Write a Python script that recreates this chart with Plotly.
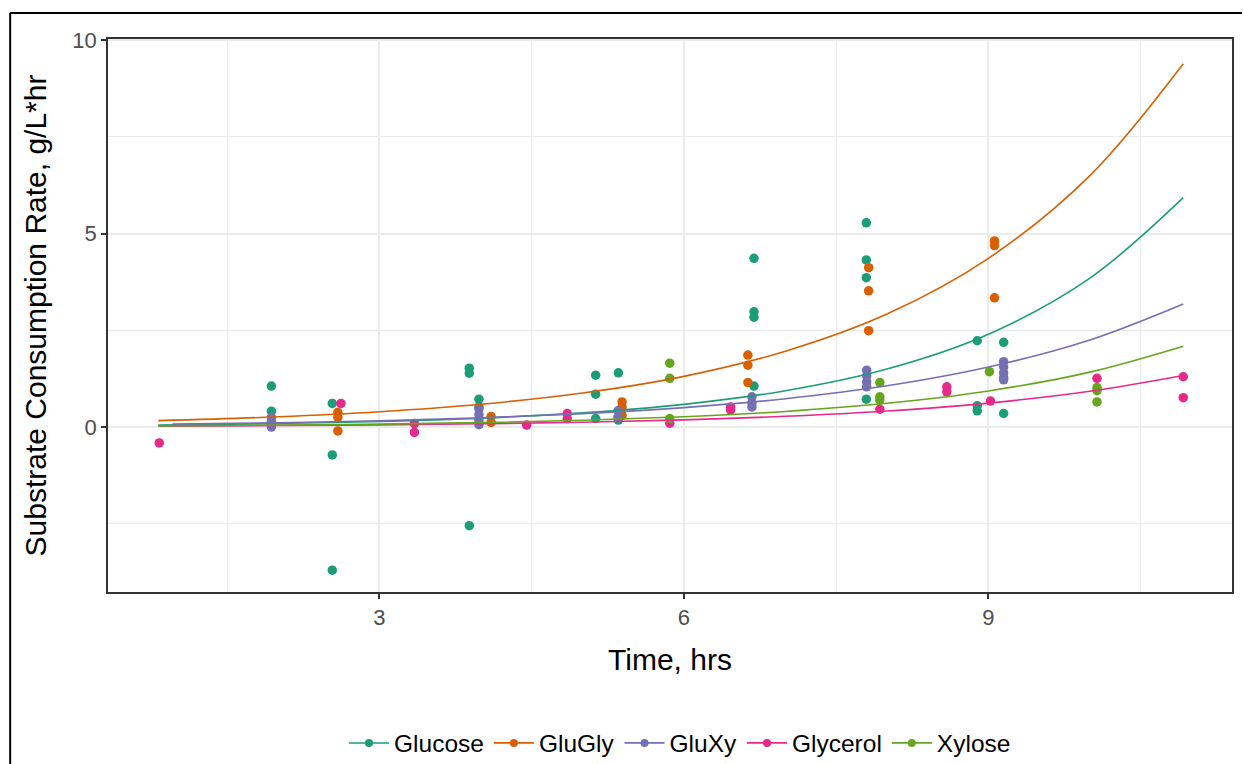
import plotly.graph_objects as go

# ---------------- data ----------------
series_names = ["Glucose", "GluGly", "GluXy", "Glycerol", "Xylose"]
colors = ["#1B9E77", "#D95F02", "#7570B3", "#E7298A", "#66A61E"]

glucose_x = [1.935, 1.935, 2.535, 2.535, 2.535, 3.885, 3.885, 3.885, 3.98, 3.98,
             5.13, 5.13, 5.13, 5.354, 5.354, 6.69, 6.69, 6.69, 6.69,
             7.797, 7.797, 7.797, 7.797, 8.89, 8.89, 8.89, 9.15, 9.15, 9.15]
glucose_y = [1.06, 0.41, 0.61, -0.72, -3.70, 1.52, 1.39, -2.55, 0.72, 0.52,
             1.34, 0.85, 0.22, 1.40, 0.18, 4.36, 2.98, 2.84, 1.06,
             5.28, 4.32, 3.86, 0.72, 2.23, 0.55, 0.42, 2.19, 1.28, 0.35]

glugly_x = [2.59, 2.59, 2.59, 4.10, 4.10, 5.39, 5.39, 5.39, 6.63, 6.63, 6.63,
            7.82, 7.82, 7.82, 9.06, 9.06, 9.06]
glugly_y = [0.38, 0.25, -0.10, 0.27, 0.12, 0.65, 0.52, 0.30, 1.86, 1.60, 1.15,
            4.12, 3.52, 2.49, 4.81, 4.69, 3.34]

gluxy_x = [1.935, 1.935, 1.935, 1.935, 3.98, 3.98, 3.98, 3.98, 5.35, 5.35,
           6.67, 6.67, 6.67, 7.80, 7.80, 7.80, 7.80, 9.15, 9.15, 9.15, 9.15]
gluxy_y = [0.25, 0.15, 0.05, 0.00, 0.47, 0.32, 0.18, 0.06, 0.42, 0.25,
           0.78, 0.62, 0.52, 1.47, 1.32, 1.17, 1.04, 1.69, 1.55, 1.40, 1.22]

glycerol_x = [0.83, 2.62, 3.344, 3.344, 4.45, 4.85, 4.85, 5.86, 6.46, 6.46,
              7.93, 8.59, 8.59, 9.02, 10.07, 10.92, 10.92]
glycerol_y = [-0.41, 0.61, 0.09, -0.14, 0.05, 0.35, 0.22, 0.10, 0.52, 0.44,
              0.46, 1.04, 0.91, 0.67, 1.26, 1.30, 0.76]

xylose_x = [5.86, 5.86, 5.86, 7.93, 7.93, 7.93, 9.01, 10.07, 10.07, 10.07]
xylose_y = [1.65, 1.26, 0.22, 1.15, 0.78, 0.70, 1.43, 1.02, 0.94, 0.65]

# fitted (smooth) curves
fit_x = [0.82, 2, 3, 4, 5, 6, 7, 8, 9, 10, 10.92]
fit_x_gluxy = [0.96, 2, 3, 4, 5, 6, 7, 8, 9, 10, 10.92]
glucose_fit = [0.051, 0.090, 0.143, 0.229, 0.367, 0.587, 0.939, 1.50, 2.40, 3.85, 5.93]
glugly_fit = [0.165, 0.265, 0.395, 0.589, 0.879, 1.31, 1.96, 2.92, 4.36, 6.50, 9.39]
gluxy_fit = [0.076, 0.112, 0.163, 0.238, 0.346, 0.503, 0.732, 1.065, 1.55, 2.25, 3.18]
glycerol_fit = [0.023, 0.038, 0.056, 0.084, 0.125, 0.186, 0.278, 0.415, 0.619, 0.923, 1.33]
xylose_fit = [0.030, 0.049, 0.075, 0.114, 0.174, 0.265, 0.403, 0.613, 0.933, 1.42, 2.09]

x_ticks = [3, 6, 9]
y_ticks = [0, 5, 10]

points = [(glucose_x, glucose_y), (glugly_x, glugly_y), (gluxy_x, gluxy_y),
          (glycerol_x, glycerol_y), (xylose_x, xylose_y)]
fits = [(fit_x, glucose_fit), (fit_x, glugly_fit), (fit_x_gluxy, gluxy_fit),
        (fit_x, glycerol_fit), (fit_x, xylose_fit)]

# ---------------- figure ----------------
FONT = "Liberation Sans, Arial, sans-serif"
fig = go.Figure()

for name, col, (px, py) in zip(series_names, colors, points):
    fig.add_trace(go.Scatter(x=px, y=py, mode="markers", name=name,
                             legendgroup=name, showlegend=False,
                             marker=dict(color=col, size=9.5, line=dict(width=0)),
                             cliponaxis=False))

for name, col, (fx, fy) in zip(series_names, colors, fits):
    fig.add_trace(go.Scatter(x=fx, y=fy, mode="lines", name=name,
                             legendgroup=name, showlegend=False,
                             line=dict(color=col, width=1.6, shape="spline")))

# legend entries (line + dot key)
for name, col in zip(series_names, colors):
    fig.add_trace(go.Scatter(x=[None], y=[None], mode="lines+markers",
                             name=name, legendgroup=name, showlegend=True,
                             line=dict(color=col, width=1.6),
                             marker=dict(color=col, size=8)))

W, H = 1244, 764
L, R, T, B = 108, 1234, 39, 592
pw, ph = R - L, B - T

grid_major = "#EBEBEB"
fig.update_xaxes(range=[0.325, 11.40], tickvals=x_ticks, ticktext=[str(v) for v in x_ticks],
                 showgrid=True, gridcolor=grid_major, gridwidth=1.8,
                 minor=dict(tick0=0, dtick=1.5, showgrid=True, gridcolor=grid_major,
                            gridwidth=1, ticks=""),
                 zeroline=False, showline=True, mirror=True, linecolor="#333333",
                 linewidth=1.5, ticks="outside", ticklen=5, tickwidth=1.5,
                 tickcolor="#333333",
                 tickfont=dict(family=FONT, size=22, color="#4D4D4D"),
                 title=dict(text="Time, hrs", font=dict(family=FONT, size=30, color="black"),
                            standoff=20))
fig.update_yaxes(range=[-4.264, 10.03], tickvals=y_ticks, ticktext=[str(v) for v in y_ticks],
                 showgrid=True, gridcolor=grid_major, gridwidth=1.8,
                 minor=dict(tick0=0, dtick=2.5, showgrid=True, gridcolor=grid_major,
                            gridwidth=1, ticks=""),
                 zeroline=False, showline=True, mirror=True, linecolor="#333333",
                 linewidth=1.5, ticks="outside", ticklen=5, tickwidth=1.5,
                 tickcolor="#333333",
                 tickfont=dict(family=FONT, size=22, color="#4D4D4D"),
                 title=dict(text="Substrate Consumption Rate, g/L*hr",
                            font=dict(family=FONT, size=30, color="black"), standoff=17))

# outer frame of the screenshot (top and left edges)
fig.add_shape(type="line", xref="paper", yref="paper",
              x0=(10 - L) / pw, x1=(W - L) / pw, y0=(B - 13) / ph, y1=(B - 13) / ph,
              line=dict(color="black", width=2))
fig.add_shape(type="line", xref="paper", yref="paper",
              x0=(10 - L) / pw, x1=(10 - L) / pw, y0=(B - 13) / ph, y1=(B - H) / ph,
              line=dict(color="black", width=2))

fig.update_layout(
    width=W, height=H,
    margin=dict(l=L, r=W - R, t=T, b=H - B),
    paper_bgcolor="white", plot_bgcolor="white",
    font=dict(family=FONT),
    legend=dict(orientation="h", xref="container", yref="container",
                x=680 / W, xanchor="center",
                y=1 - 743 / H, yanchor="middle",
                font=dict(family=FONT, size=24.5, color="black"),
                itemwidth=40, tracegroupgap=0, bgcolor="rgba(0,0,0,0)"),
    showlegend=True,
)

fig.write_html("out.html", config={"displayModeBar": False},
               post_script="document.body.style.margin='0';document.body.style.overflow='hidden';")
